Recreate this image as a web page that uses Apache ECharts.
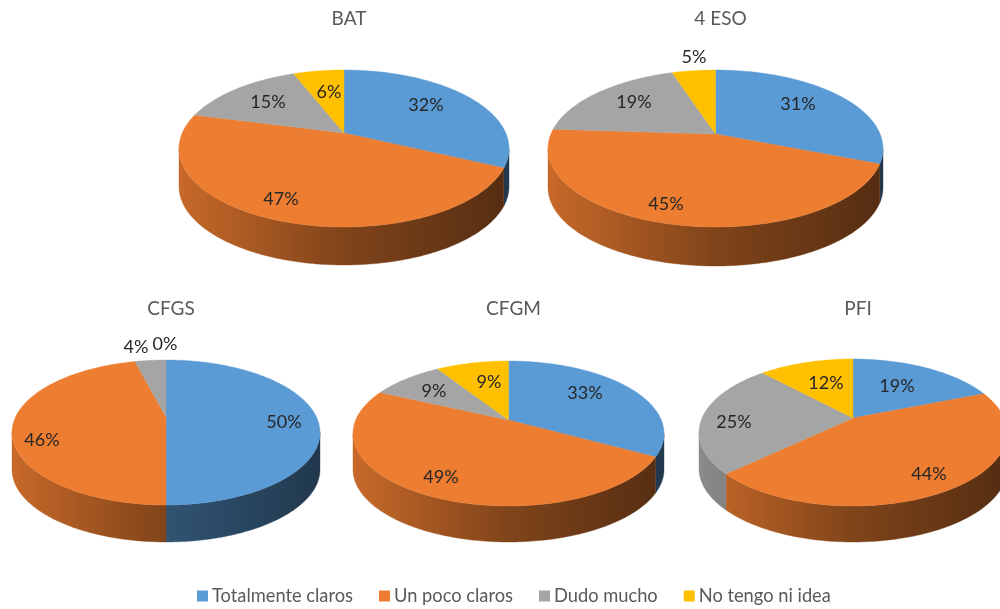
<!DOCTYPE html>
<html lang="es">
<head>
<meta charset="utf-8">
<title>Claridad de objetivos por nivel de estudios</title>
<style>html,body{margin:0;padding:0;background:#fff}#chart{width:1000px;height:609px}</style>
<script src="https://cdn.jsdelivr.net/npm/echarts@6/dist/echarts.min.js"></script>
</head>
<body>
<div id="chart"></div>
<script>
// Percentages per study level
const levels = ['BAT', '4 ESO', 'CFGS', 'CFGM', 'PFI'];
const categories = ['Totalmente claros', 'Un poco claros', 'Dudo mucho', 'No tengo ni idea'];
const totalmenteClaros = [32, 31, 50, 33, 19];
const unPocoClaros = [47, 45, 46, 49, 44];
const dudoMucho = [15, 19, 4, 9, 25];
const noTengoIdea = [6, 5, 0, 9, 12];
const seriesValues = [totalmenteClaros, unPocoClaros, dudoMucho, noTengoIdea];

// Face colours, one per category
const palette = [[91, 155, 213], [237, 125, 49], [165, 165, 165], [255, 192, 0]];

// Tilted disc geometry per pie: centre x, half width, top and front of the face,
// bottom of the wall, and the y of the point where the slices meet
const discs = [
  { cx: 344, rx: 165, top: 70, front: 227, bottom: 265, hub: 133 },
  { cx: 715.5, rx: 167.5, top: 70, front: 227, bottom: 266, hub: 134 },
  { cx: 166, rx: 154, top: 360, front: 505, bottom: 542, hub: 417 },
  { cx: 508.5, rx: 155.5, top: 361, front: 506, bottom: 542, hub: 420 },
  { cx: 853, rx: 154, top: 359, front: 506, bottom: 542, hub: 418 }
];

// Label anchors, offset from each pie's hub: [pie][category] -> [dx, dy]
const labelOffsets = [
  [[82, -28], [-63, 66], [-76, -31], [-15, -41]],
  [[82.5, -30], [-49.5, 70], [-81.5, -32], [-21.5, -77]],
  [[118, 5], [-124, 23], [-30, -70], [-1, -73]],
  [[76.5, -27], [-67.5, 57], [-74.5, -29], [-19.5, -38]],
  [[44, -32], [76, 56], [-119, 4], [-27, -35]]
];

// Running total before each category, per pie
function startOf(pie, cat) {
  let sum = 0;
  for (let i = 0; i < cat; i++) sum += seriesValues[i][pie];
  return sum;
}

// Perspective mapping of a disc angle (clockwise from north) onto the drawn ellipse.
// Keeps the rim on the ellipse while moving the disc's centre to the hub.
function rimPoint(d, theta) {
  const ry = (d.front - d.top) / 2;
  const midY = (d.front + d.top) / 2;
  const a = (midY - d.hub) / ry;
  const u = Math.sin(theta), v = Math.cos(theta);
  const w = 1 + a * v;
  return [d.cx + d.rx * u * Math.sqrt(1 - a * a) / w, midY - ry * (v + a) / w];
}

function shade(rgb, f) {
  return 'rgb(' + rgb.map(c => Math.round(c * f)).join(',') + ')';
}

function arcAngles(from, to) {
  const out = [];
  const steps = Math.max(2, Math.ceil((to - from) / (Math.PI / 180)));
  for (let i = 0; i <= steps; i++) out.push(from + (to - from) * i / steps);
  return out;
}

function renderSlice(cat) {
  return function (params, api) {
    const pie = params.dataIndex;
    const d = discs[pie];
    const value = api.value(0);
    const t0 = startOf(pie, cat) / 100 * 2 * Math.PI;
    const t1 = t0 + value / 100 * 2 * Math.PI;
    const children = [];
    const color = palette[cat];

    if (value > 0) {
      // Wall: only the part of the arc on the near half of the rim
      const a = ((d.front + d.top) / 2 - d.hub) / ((d.front - d.top) / 2);
      const nearFrom = Math.acos(-a);
      const nearTo = 2 * Math.PI - nearFrom;
      const w0 = Math.max(t0, nearFrom), w1 = Math.min(t1, nearTo);
      if (w1 > w0) {
        const rim = arcAngles(w0, w1).map(t => rimPoint(d, t));
        const depth = d.bottom - d.front;
        const low = rim.slice().reverse().map(p => [p[0], p[1] + depth]);
        const fill = {
          type: 'linear', global: true,
          x: d.cx - d.rx, y: 0, x2: d.cx + d.rx, y2: 0,
          colorStops: [
            { offset: 0, color: shade(color, 0.84) },
            { offset: 0.5, color: shade(color, 0.54) },
            { offset: 1, color: shade(color, 0.36) }
          ]
        };
        children.push({
          type: 'polygon', z2: 1,
          shape: { points: rim.concat(low) },
          style: { fill: fill, stroke: fill, lineWidth: 0.4 }
        });
      }
      // Face of the slice
      const face = [[d.cx, d.hub]].concat(arcAngles(t0, t1).map(t => rimPoint(d, t)));
      children.push({
        type: 'polygon', z2: 2,
        shape: { points: face },
        style: { fill: shade(color, 1), stroke: shade(color, 1), lineWidth: 0.4 }
      });
    }

    const off = labelOffsets[pie][cat];
    children.push({
      type: 'text', z2: 10,
      x: d.cx + off[0], y: d.hub + off[1],
      style: {
        text: value + '%', fill: '#262626',
        font: '18px Lato', align: 'center', verticalAlign: 'middle'
      }
    });
    return { type: 'group', children: children };
  };
}

const option = {
  animation: false,
  backgroundColor: '#ffffff',
  color: palette.map(c => shade(c, 1)),
  title: levels.map((name, i) => ({
    text: name,
    left: discs[i].cx,
    top: discs[i].top < 100 ? 4 : 294,
    textAlign: 'center',
    textStyle: { fontFamily: 'Lato', fontSize: 19, fontWeight: 'normal', color: '#595959' }
  })),
  legend: {
    data: categories,
    left: 197, top: 587, padding: 0,
    icon: 'rect', itemWidth: 11, itemHeight: 11, itemGap: 26,
    textStyle: { fontFamily: 'Lato', fontSize: 18.3, color: '#595959', padding: [0, 0, 0, -1] }
  },
  series: categories.map((name, cat) => ({
    type: 'custom',
    name: name,
    coordinateSystem: 'none',
    itemStyle: { color: shade(palette[cat], 1) },
    silent: true,
    renderItem: renderSlice(cat),
    data: seriesValues[cat]
  }))
};

echarts.init(document.getElementById('chart'), null, { renderer: 'canvas' }).setOption(option);
</script>
</body>
</html>
